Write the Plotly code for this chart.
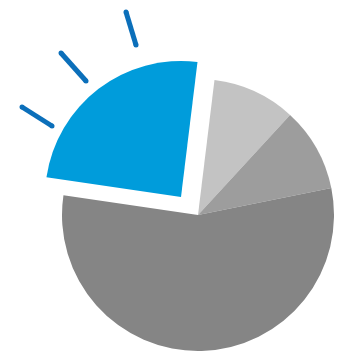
import plotly.graph_objects as go

BLUE = "#009CDB"
RAY_BLUE = "#0B6FBA"
LIGHT_GRAY = "#C3C3C3"
MID_GRAY = "#9D9D9D"
DARK_GRAY = "#858585"

labels = ["A", "B", "C", "D"]
values = [24.6, 9.9, 10.0, 55.5]
colors_gray = ["rgba(0,0,0,0)", LIGHT_GRAY, MID_GRAY, DARK_GRAY]
colors_blue = [BLUE, "rgba(0,0,0,0)", "rgba(0,0,0,0)", "rgba(0,0,0,0)"]

# decorative rays next to the highlighted slice (pixel coords in the figure)
ray_x = [[14, 44], [53, 78], [118, 128]]
ray_y = [[99, 118], [45, 73], [4, 37]]

# page body keeps an 8px margin, so the figure is narrower than the window
W, H = 326, 350

fig = go.Figure()

for rx, ry in zip(ray_x, ray_y):
    fig.add_trace(
        go.Scatter(
            x=rx,
            y=ry,
            mode="lines+markers",
            line={"color": RAY_BLUE, "width": 5},
            marker={"color": RAY_BLUE, "size": 5},
            hoverinfo="skip",
            showlegend=False,
        )
    )

# gray part of the pie
fig.add_trace(
    go.Pie(
        labels=labels,
        values=values,
        sort=False,
        direction="clockwise",
        rotation=278.4,
        marker={"colors": colors_gray, "line": {"width": 0}},
        textinfo="none",
        hoverinfo="skip",
        showlegend=False,
        domain={"x": [54 / W, 1], "y": [7 / H, 279 / H]},
    )
)

# pulled-out blue slice
fig.add_trace(
    go.Pie(
        labels=labels,
        values=values,
        sort=False,
        direction="clockwise",
        rotation=278.4,
        marker={"colors": colors_blue, "line": {"width": 0}},
        textinfo="none",
        hoverinfo="skip",
        showlegend=False,
        domain={"x": [37 / W, 309 / W], "y": [25 / H, 297 / H]},
    )
)

fig.update_layout(
    width=W,
    height=H,
    margin=dict(t=0, b=0, l=0, r=0),
    paper_bgcolor="white",
    plot_bgcolor="white",
    xaxis={"range": [0, W], "visible": False, "fixedrange": True},
    yaxis={"range": [H, 0], "visible": False, "fixedrange": True},
)

fig.write_html("out.html")
